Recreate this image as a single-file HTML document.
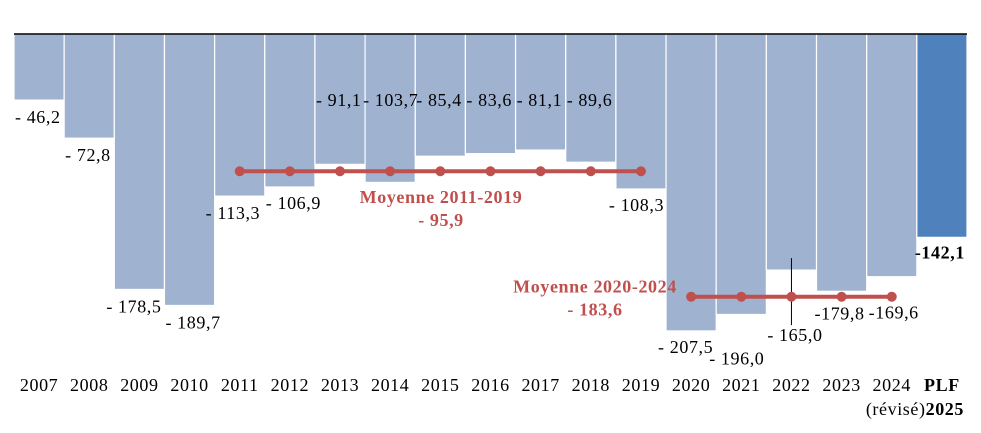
<!DOCTYPE html>
<html><head><meta charset="utf-8">
<style>
body{margin:0;background:#fff;}
svg{display:block;font-family:"Liberation Serif",serif;}
text{letter-spacing:0.6px;}
</style></head>
<body>
<svg id="chart" width="981" height="433" viewBox="0 0 981 433" xmlns="http://www.w3.org/2000/svg"></svg>
<script>
const categories=["2007","2008","2009","2010","2011","2012","2013","2014","2015","2016","2017","2018","2019","2020","2021","2022","2023","2024","PLF"];
const values=[-46.2,-72.8,-178.5,-189.7,-113.3,-106.9,-91.1,-103.7,-85.4,-83.6,-81.1,-89.6,-108.3,-207.5,-196.0,-165.0,-179.8,-169.6,-142.1];
const valueLabels=["- 46,2","- 72,8","- 178,5","- 189,7","- 113,3","- 106,9","- 91,1","- 103,7","- 85,4","- 83,6","- 81,1","- 89,6","- 108,3","- 207,5","- 196,0","- 165,0","-179,8","-169,6","-142,1"];
const mean1=-95.9, mean1Range=[4,12], mean1Label=["Moyenne 2011-2019","- 95,9"];
const mean2=-183.6, mean2Range=[13,17], mean2Label=["Moyenne 2020-2024","- 183,6"];
// label placement styling (dx, dy relative to bar left/bottom; null = inside near top)
const labelDx=[1,1,-8,1,-9,1,1,-2,1,1,1,1,-7,-8,-7,1,-2,2,-2];
const labelDy=[17,17,17,17,17,16,null,null,null,null,null,null,16,16,44,65,22,36,15];

const svg=document.getElementById('chart');
const NS="http://www.w3.org/2000/svg";
const x0=14,x1=967,y0=34,k=1.431;
const bw=(x1-x0)/categories.length;
const X=i=>x0+i*bw;
const Y=v=>y0-v*k;
function el(t,a){const e=document.createElementNS(NS,t);for(const q in a)e.setAttribute(q,a[q]);svg.appendChild(e);return e;}

values.forEach((v,i)=>{
  const r=el('rect',{x:X(i),y:y0,width:bw,height:Y(v)-y0,fill:i===18?'#4f81bd':'#9fb3d1',stroke:'#fff','stroke-width':1.2});
  
  
});
const zl=el('line',{x1:x0,x2:x1,y1:y0,y2:y0,stroke:'#000','stroke-width':1.5});


const ml=el('line',{x1:X(15)+bw/2,x2:X(15)+bw/2,y1:Y(values[15])-12,y2:Y(values[15])+55,stroke:'#000','stroke-width':1});



values.forEach((v,i)=>{
  const y=labelDy[i]===null?100:Y(v)+labelDy[i];
  const t=el('text',{x:X(i)+labelDx[i],y:y+6,'font-size':18,fill:'#000','font-weight':i===18?'bold':'normal'});
  t.textContent=valueLabels[i];
  
  
});

function meanLine(m,rng,lab,name,tx,ty){
  const ym=Y(m);
  const l=el('line',{x1:X(rng[0])+bw/2,x2:X(rng[1])+bw/2,y1:ym,y2:ym,stroke:'#c0504d','stroke-width':4});
  
  
  for(let i=rng[0];i<=rng[1];i++){
    const c=el('circle',{cx:X(i)+bw/2,cy:ym,r:5,fill:'#c0504d'});
    
    
  }
  lab.forEach((s,j)=>{
    const t=el('text',{x:tx,y:ym+ty+j*23,'text-anchor':'middle','font-size':18,'font-weight':'bold',fill:'#c0504d'});
    t.textContent=s;
    
    
  });
}
meanLine(mean1,mean1Range,mean1Label,'mean-2011-2019',441,32);
meanLine(mean2,mean2Range,mean2Label,'mean-2020-2024',595,-4);

categories.forEach((c,i)=>{
  const t=el('text',{x:X(i)+bw/2,y:391,'text-anchor':'middle','font-size':18,'font-weight':i===18?'bold':'normal'});
  t.textContent=c;
  
  
});
const t2=el('text',{x:964,y:415,'text-anchor':'end','font-size':18});
t2.innerHTML='(révisé)<tspan font-weight="bold">2025</tspan>';


</script>
</body></html>
